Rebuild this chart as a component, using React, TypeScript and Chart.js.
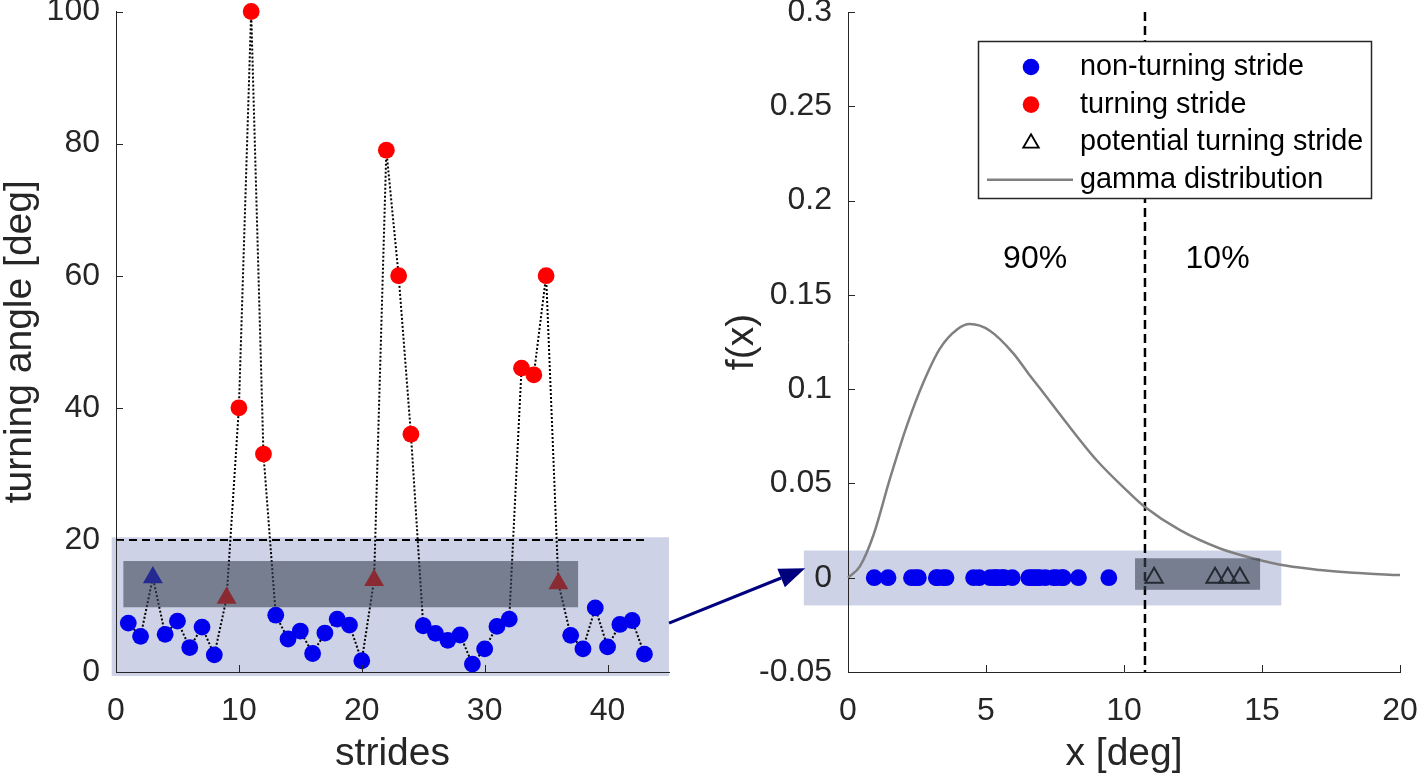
import React, { useEffect, useRef } from 'react';
import { Chart, registerables } from 'chart.js';

Chart.register(...registerables);

const W = 1418;
const H = 779;
const FONT = "'Liberation Sans', Arial, Helvetica, sans-serif";
const INK = '#262626';
const BLUE = '#0000ee';
const RED = '#ff0000';
const LAVENDER = '#ced2e6';
const SHADE = 'rgba(60, 70, 85, 0.6)';
const NAVY = '#00007f';
const GAMMA_GRAY = '#808080';
const TICK_FONT = 32;
const TITLE_FONT = 39;
const LEGEND_FONT = 28.8;

// ---------- left panel data ----------
const turningAngles = [
  7.4, 5.4, 14.3, 5.7, 7.7, 3.7, 6.8, 2.6, 11.2, 40,
  100, 33, 8.6, 5.0, 6.2, 2.8, 5.9, 8.0, 7.1, 1.7,
  13.9, 79, 60, 36, 7.0, 5.85, 4.8, 5.6, 1.2, 3.5,
  6.9, 8.0, 46, 45, 60, 13.4, 5.55, 3.5, 9.7, 3.8,
  7.2, 7.8, 2.7,
];
// n = non-turning, t = turning, pn = potential (kept non-turning), pt = potential (turning)
const strideClass = [
  'n', 'n', 'pn', 'n', 'n', 'n', 'n', 'n', 'pt', 't',
  't', 't', 'n', 'n', 'n', 'n', 'n', 'n', 'n', 'n',
  'pt', 't', 't', 't', 'n', 'n', 'n', 'n', 'n', 'n',
  'n', 'n', 't', 't', 't', 'pt', 'n', 'n', 'n', 'n',
  'n', 'n', 'n',
];
const leftXTicks = [0, 10, 20, 30, 40];
const leftYTicks = [0, 20, 40, 60, 80, 100];
const angleThreshold = 20;
const thresholdLastStride = 43;
const leftLavender = { xMin: -0.35, xMax: 45, yMin: -0.6, yMax: 20.4 };
const leftShade = { xMin: 0.6, xMax: 37.6, yMin: 9.8, yMax: 16.8 };

// ---------- right panel data ----------
const rightXTicks = [0, 5, 10, 15, 20];
const rightYTicks = [-0.05, 0, 0.05, 0.1, 0.15, 0.2, 0.25, 0.3];
const rightYTickLabels = ['-0.05', '0', '0.05', '0.1', '0.15', '0.2', '0.25', '0.3'];
const nonTurningX = [
  0.95, 1.45, 2.3, 2.45, 2.55, 3.2, 3.25, 3.45, 3.55, 4.55,
  4.75, 5.15, 5.3, 5.35, 5.45, 5.6, 5.65, 5.95, 6.55, 6.65,
  6.75, 6.85, 6.95, 7.15, 7.45, 7.55, 7.75, 7.8, 8.35, 9.45,
];
const potentialX = [11.09, 13.3, 13.76, 14.2];
const gammaX = [0, 0.43, 0.92, 1.52, 2.13, 2.73, 3.33, 3.94, 4.42, 5.14, 5.99, 6.59, 6.96, 7.8, 9.01, 10.22, 10.76, 12.03, 13.48, 14.69, 15.9, 17.1, 18.3, 20];
const gammaY = [0, 0.006, 0.0225, 0.0525, 0.0805, 0.1035, 0.1215, 0.1315, 0.1345, 0.131, 0.119, 0.1072, 0.1003, 0.0843, 0.0623, 0.0446, 0.0375, 0.0252, 0.0155, 0.0102, 0.0063, 0.0041, 0.0026, 0.0014];
const cutoffX = 10.76;
const shareLabels = ['90%', '10%'];
const shareX = [6.78, 13.39];
const shareY = [0.169, 0.169];
const legendLabels = ['non-turning stride', 'turning stride', 'potential turning stride', 'gamma distribution'];
const rightLavender = { xMin: -1.6, xMax: 15.7, yMin: -0.0147, yMax: 0.0144 };
const rightShade = { xMin: 10.4, xMax: 14.93, yMin: -0.0064, yMax: 0.0103 };
const arrowFrom = { x: 45.0, y: 7.4 }; // left-panel coordinates
const arrowTo = { x: -1.55, y: 0.005 }; // right-panel coordinates

function fillRegion(chart: any, r: any, color: string) {
  const xs = chart.scales.x;
  const ys = chart.scales.y;
  const ctx = chart.ctx;
  const x0 = xs.getPixelForValue(r.xMin);
  const x1 = xs.getPixelForValue(r.xMax);
  const y0 = ys.getPixelForValue(r.yMax);
  const y1 = ys.getPixelForValue(r.yMin);
  ctx.save();
  ctx.fillStyle = color;
  ctx.fillRect(x0, y0, x1 - x0, y1 - y0);
  ctx.restore();
}

function drawInwardTicks(chart: any) {
  const ctx = chart.ctx;
  const { left, bottom } = chart.chartArea;
  const len = 7;
  ctx.save();
  ctx.strokeStyle = INK;
  ctx.lineWidth = 1;
  chart.scales.x.ticks.forEach((t: any) => {
    const px = Math.round(chart.scales.x.getPixelForValue(t.value)) + 0.5;
    ctx.beginPath();
    ctx.moveTo(px, bottom);
    ctx.lineTo(px, bottom - len);
    ctx.stroke();
  });
  chart.scales.y.ticks.forEach((t: any) => {
    const py = Math.round(chart.scales.y.getPixelForValue(t.value)) + 0.5;
    ctx.beginPath();
    ctx.moveTo(left, py);
    ctx.lineTo(left + len, py);
    ctx.stroke();
  });
  ctx.restore();
}

function makeAxis(min: number, max: number, tickValues: number[], labels: string[] | null, title: string, horizontal: boolean, size: number) {
  return {
    type: 'linear',
    min,
    max,
    grid: { display: false },
    border: { display: true, color: INK, width: 1 },
    ticks: {
      color: INK,
      font: { family: FONT, size: TICK_FONT },
      padding: horizontal ? 12 : 8,
      autoSkip: false,
      maxRotation: 0,
      callback: (v: any, i: number) => (labels ? labels[i] : String(v)),
    },
    title: {
      display: true,
      text: title,
      color: INK,
      font: { family: FONT, size: TITLE_FONT },
      padding: horizontal ? { top: 0, bottom: 1 } : { top: -3, bottom: 0 },
    },
    afterBuildTicks: (s: any) => {
      s.ticks = tickValues.map((value) => ({ value }));
    },
    afterFit: (s: any) => {
      if (horizontal) s.height = size;
      else s.width = size;
      s.paddingTop = 0;
      s.paddingBottom = 0;
      s.paddingLeft = 0;
      s.paddingRight = 0;
    },
  };
}

function drawTriangle(ctx: CanvasRenderingContext2D, x: number, y: number, r: number) {
  ctx.beginPath();
  ctx.moveTo(x, y - r);
  ctx.lineTo(x + r * Math.sin((2 * Math.PI) / 3), y - r * Math.cos((2 * Math.PI) / 3));
  ctx.lineTo(x + r * Math.sin((4 * Math.PI) / 3), y - r * Math.cos((4 * Math.PI) / 3));
  ctx.closePath();
}

export default function App() {
  const leftRef = useRef<HTMLCanvasElement>(null);
  const rightRef = useRef<HTMLCanvasElement>(null);

  useEffect(() => {
    const pts = (classes: string[]) =>
      turningAngles
        .map((a, i) => ({ x: i + 1, y: a, c: strideClass[i] }))
        .filter((p) => classes.includes(p.c));
    const potential = pts(['pn', 'pt']);

    const leftPlugin = {
      id: 'leftDecor',
      beforeDraw(chart: any) {
        fillRegion(chart, leftLavender, LAVENDER);
      },
      beforeDatasetsDraw(chart: any) {
        const ctx = chart.ctx;
        const xs = chart.scales.x;
        const ys = chart.scales.y;
        const py = ys.getPixelForValue(angleThreshold);
        ctx.save();
        ctx.strokeStyle = '#000';
        ctx.lineWidth = 2;
        ctx.setLineDash([8, 5]);
        ctx.beginPath();
        ctx.moveTo(xs.getPixelForValue(0), py);
        ctx.lineTo(xs.getPixelForValue(thresholdLastStride), py);
        ctx.stroke();
        ctx.restore();
      },
      afterDatasetsDraw(chart: any) {
        fillRegion(chart, leftShade, SHADE);
      },
      afterDraw(chart: any) {
        drawInwardTicks(chart);
      },
    };

    const left = new Chart(leftRef.current as HTMLCanvasElement, {
      type: 'scatter',
      data: {
        datasets: [
          {
            label: 'path',
            data: turningAngles.map((a, i) => ({ x: i + 1, y: a })),
            showLine: true,
            borderColor: '#000',
            borderWidth: 2,
            borderDash: [2, 2],
            pointRadius: 0,
            order: 5,
            clip: false,
          } as any,
          {
            label: 'non-turning stride',
            data: pts(['n']),
            pointStyle: 'circle',
            pointRadius: 8.4,
            backgroundColor: BLUE,
            borderWidth: 0,
            order: 1,
            clip: false,
          },
          {
            label: 'turning stride',
            data: pts(['t']),
            pointStyle: 'circle',
            pointRadius: 8.4,
            backgroundColor: RED,
            borderWidth: 0,
            order: 1,
            clip: false,
          },
          {
            label: 'potential turning stride',
            data: potential,
            pointStyle: 'triangle',
            pointRadius: 11.5,
            backgroundColor: potential.map((p) => (p.c === 'pn' ? BLUE : RED)),
            borderWidth: 0,
            order: 1,
            clip: false,
          },
        ],
      },
      options: {
        responsive: false,
        animation: false,
        events: [],
        layout: { padding: { left: 0, top: 11, right: W - 669, bottom: 0 } },
        plugins: { legend: { display: false }, tooltip: { enabled: false } },
        scales: {
          x: makeAxis(0, 45, leftXTicks, null, 'strides', true, H - 672) as any,
          y: makeAxis(0, 100, leftYTicks, null, 'turning angle [deg]', false, 116) as any,
        },
      },
      plugins: [leftPlugin],
    });

    const rightPlugin = {
      id: 'rightDecor',
      beforeDraw(chart: any) {
        fillRegion(chart, rightLavender, LAVENDER);
      },
      beforeDatasetsDraw(chart: any) {
        const ctx = chart.ctx;
        const xs = chart.scales.x;
        const { top, bottom } = chart.chartArea;
        const px = xs.getPixelForValue(cutoffX);
        ctx.save();
        ctx.strokeStyle = '#000';
        ctx.lineWidth = 2.5;
        ctx.setLineDash([9, 5]);
        ctx.beginPath();
        ctx.moveTo(px, top);
        ctx.lineTo(px, bottom);
        ctx.stroke();
        ctx.restore();
      },
      afterDatasetsDraw(chart: any) {
        fillRegion(chart, rightShade, SHADE);
      },
      afterDraw(chart: any) {
        drawInwardTicks(chart);
        const ctx = chart.ctx;
        const xs = chart.scales.x;
        const ys = chart.scales.y;

        // share labels
        ctx.save();
        ctx.fillStyle = '#000';
        ctx.font = `${TICK_FONT}px ${FONT}`;
        ctx.textAlign = 'center';
        ctx.textBaseline = 'middle';
        shareLabels.forEach((s, i) => {
          ctx.fillText(s, xs.getPixelForValue(shareX[i]), ys.getPixelForValue(shareY[i]));
        });
        ctx.restore();

        // legend
        const { right, top } = chart.chartArea;
        const bx = right - 422;
        const by = top + 29;
        const bw = 393;
        const bh = 157;
        ctx.save();
        ctx.fillStyle = '#fff';
        ctx.fillRect(bx, by, bw, bh);
        ctx.strokeStyle = INK;
        ctx.lineWidth = 1.5;
        ctx.strokeRect(bx + 0.5, by + 0.5, bw, bh);
        const rowY = (i: number) => by + 26 + i * 37.6;
        const mx = bx + 53;
        ctx.fillStyle = BLUE;
        ctx.beginPath();
        ctx.arc(mx, rowY(0), 8.3, 0, Math.PI * 2);
        ctx.fill();
        ctx.fillStyle = RED;
        ctx.beginPath();
        ctx.arc(mx, rowY(1), 8.3, 0, Math.PI * 2);
        ctx.fill();
        ctx.strokeStyle = '#000';
        ctx.lineWidth = 1.8;
        drawTriangle(ctx, mx, rowY(2) + 1, 9);
        ctx.stroke();
        ctx.strokeStyle = GAMMA_GRAY;
        ctx.lineWidth = 2.5;
        ctx.beginPath();
        ctx.moveTo(bx + 9, rowY(3));
        ctx.lineTo(bx + 95, rowY(3));
        ctx.stroke();
        ctx.fillStyle = '#000';
        ctx.font = `${LEGEND_FONT}px ${FONT}`;
        ctx.textAlign = 'left';
        ctx.textBaseline = 'middle';
        legendLabels.forEach((l, i) => ctx.fillText(l, bx + 102, rowY(i)));
        ctx.restore();

        // arrow from left panel band to right panel band
        const lx = left.scales.x.getPixelForValue(arrowFrom.x);
        const ly = left.scales.y.getPixelForValue(arrowFrom.y);
        const tx = xs.getPixelForValue(arrowTo.x);
        const ty = ys.getPixelForValue(arrowTo.y);
        const ang = Math.atan2(ty - ly, tx - lx);
        const headLen = 26;
        const headHalf = 10;
        const bxh = tx - headLen * Math.cos(ang);
        const byh = ty - headLen * Math.sin(ang);
        ctx.save();
        ctx.strokeStyle = NAVY;
        ctx.fillStyle = NAVY;
        ctx.lineWidth = 3;
        ctx.beginPath();
        ctx.moveTo(lx, ly);
        ctx.lineTo(bxh, byh);
        ctx.stroke();
        ctx.beginPath();
        ctx.moveTo(tx, ty);
        ctx.lineTo(bxh + headHalf * Math.sin(ang), byh - headHalf * Math.cos(ang));
        ctx.lineTo(bxh - headHalf * Math.sin(ang), byh + headHalf * Math.cos(ang));
        ctx.closePath();
        ctx.fill();
        ctx.restore();
      },
    };

    const right = new Chart(rightRef.current as HTMLCanvasElement, {
      type: 'scatter',
      data: {
        datasets: [
          {
            label: 'gamma distribution',
            data: gammaX.map((x, i) => ({ x, y: gammaY[i] })),
            showLine: true,
            borderColor: GAMMA_GRAY,
            borderWidth: 2.5,
            pointRadius: 0,
            cubicInterpolationMode: 'monotone',
            order: 5,
            clip: false,
          } as any,
          {
            label: 'non-turning stride',
            data: nonTurningX.map((x) => ({ x, y: 0 })),
            pointStyle: 'circle',
            pointRadius: 8.4,
            backgroundColor: BLUE,
            borderWidth: 0,
            order: 1,
            clip: false,
          },
          {
            label: 'potential turning stride',
            data: potentialX.map((x) => ({ x, y: 0 })),
            pointStyle: 'triangle',
            pointRadius: 10,
            backgroundColor: 'rgba(0,0,0,0)',
            borderColor: '#000',
            borderWidth: 2,
            order: 1,
            clip: false,
          },
        ],
      },
      options: {
        responsive: false,
        animation: false,
        events: [],
        layout: { padding: { left: 722, top: 11, right: W - 1400, bottom: 0 } },
        plugins: { legend: { display: false }, tooltip: { enabled: false } },
        scales: {
          x: makeAxis(0, 20, rightXTicks, null, 'x [deg]', true, H - 672) as any,
          y: makeAxis(-0.05, 0.3, rightYTicks, rightYTickLabels, 'f(x)', false, 126) as any,
        },
      },
      plugins: [rightPlugin],
    });

    return () => {
      right.destroy();
      left.destroy();
    };
  }, []);

  return (
    <div style={{ position: 'absolute', left: 0, top: 0, width: W, height: H, background: '#fff', overflow: 'hidden' }}>
      <canvas ref={leftRef} width={W} height={H} style={{ position: 'absolute', left: 0, top: 0 }} />
      <canvas ref={rightRef} width={W} height={H} style={{ position: 'absolute', left: 0, top: 0 }} />
    </div>
  );
}
